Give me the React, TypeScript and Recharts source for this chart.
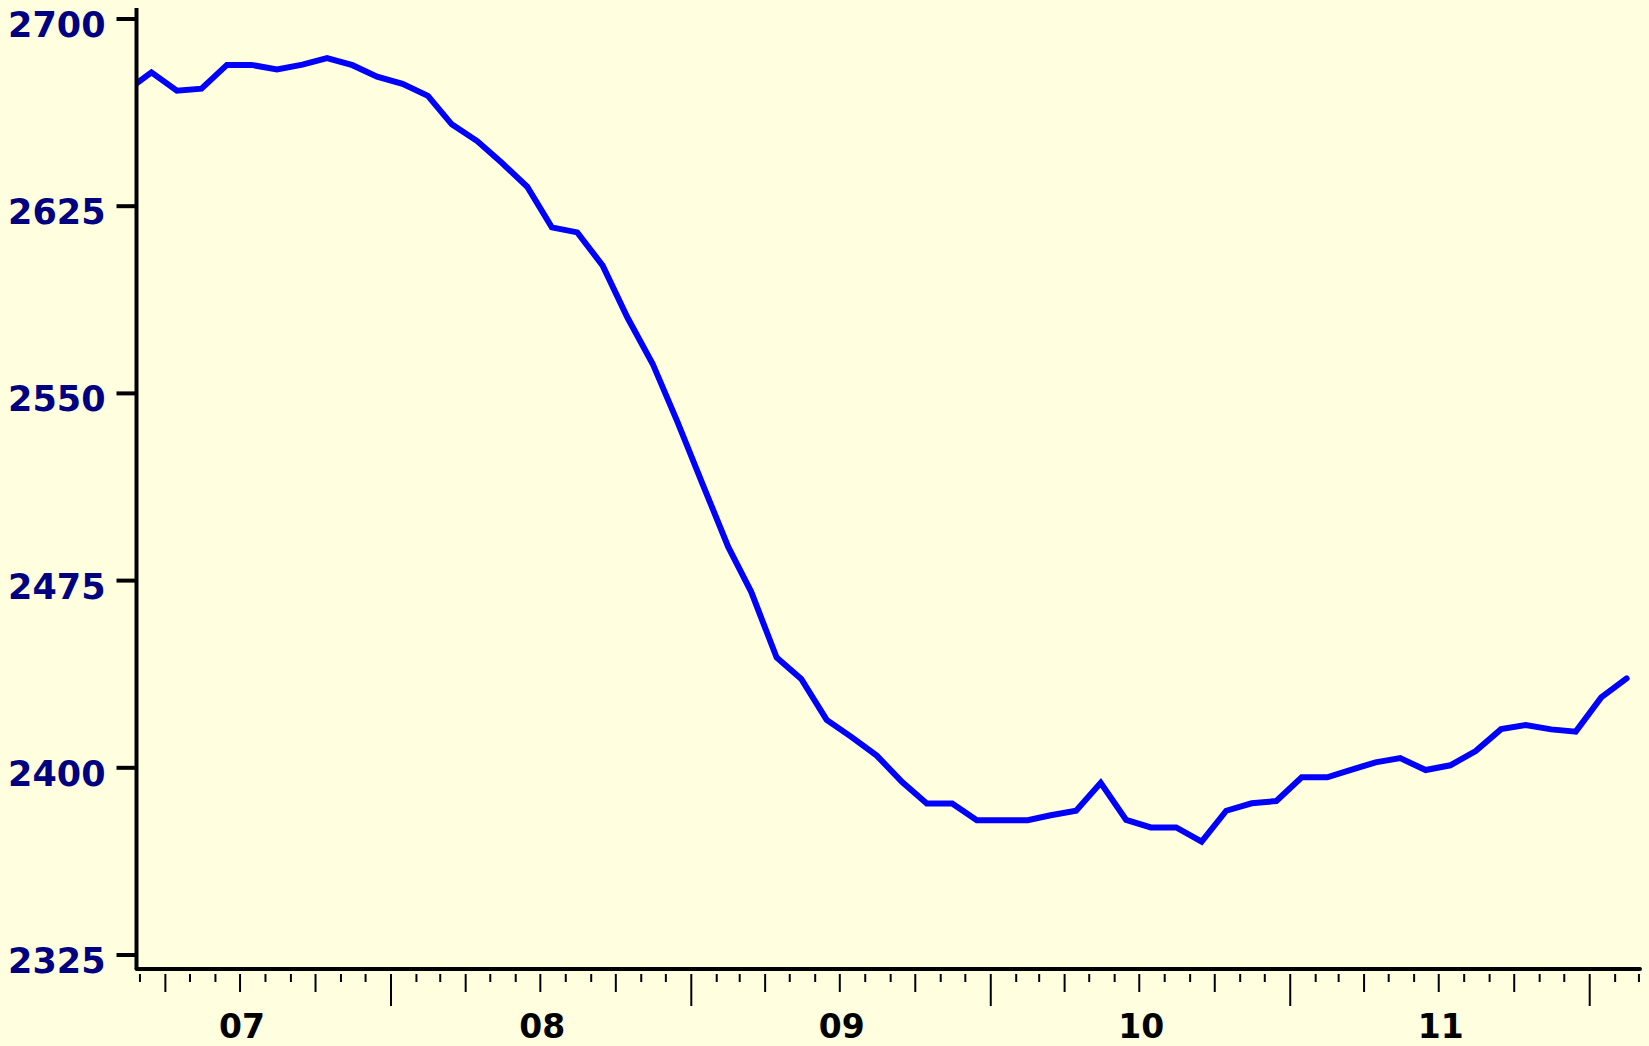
import React from 'react';
import { LineChart, Line, XAxis, YAxis } from 'recharts';

// monthly observations (plotted at the middle of each month)
const months = [
  '2007-02', '2007-03', '2007-04', '2007-05', '2007-06', '2007-07', '2007-08', '2007-09', '2007-10', '2007-11', '2007-12',
  '2008-01', '2008-02', '2008-03', '2008-04', '2008-05', '2008-06', '2008-07', '2008-08', '2008-09', '2008-10', '2008-11', '2008-12',
  '2009-01', '2009-02', '2009-03', '2009-04', '2009-05', '2009-06', '2009-07', '2009-08', '2009-09', '2009-10', '2009-11', '2009-12',
  '2010-01', '2010-02', '2010-03', '2010-04', '2010-05', '2010-06', '2010-07', '2010-08', '2010-09', '2010-10', '2010-11', '2010-12',
  '2011-01', '2011-02', '2011-03', '2011-04', '2011-05', '2011-06', '2011-07', '2011-08', '2011-09', '2011-10', '2011-11', '2011-12',
  '2012-01', '2012-02',
];

const values = [
  2671.8, 2678.6, 2671.3, 2672.1, 2681.6, 2681.6, 2679.8, 2681.7, 2684.3, 2681.5, 2676.9,
  2674.0, 2669.2, 2657.8, 2651.1, 2642.4, 2632.8, 2616.5, 2614.5, 2601.2, 2580.5, 2561.8, 2538.7,
  2513.5, 2488.5, 2470.5, 2444.2, 2435.6, 2419.2, 2412.4, 2404.9, 2394.3, 2385.7, 2385.7, 2379.0,
  2379.0, 2379.0, 2381.0, 2382.8, 2394.0, 2379.1, 2376.1, 2376.1, 2370.4, 2382.8, 2385.8, 2386.7,
  2396.2, 2396.2, 2399.1, 2402.2, 2403.9, 2399.1, 2401.0, 2406.7, 2415.5, 2417.1, 2415.4, 2414.5,
  2428.2, 2435.8,
];

const yTicks = [2325, 2400, 2475, 2550, 2625, 2700];
const yDomain = [2319.4, 2704.4];

const yearLabels = ['07', '08', '09', '10', '11'];
const firstYear = 2007;

// x axis range (days since 2007-01-01)
const xDomain = [54.8, 1887.3];
const tickStart = '2007-03';
const tickEnd = '2012-03';

const DAY = 86400000;
const ORIGIN = Date.UTC(2007, 0, 1);
const dayOf = (y: number, m: number, d: number) => (Date.UTC(y, m - 1, d) - ORIGIN) / DAY;

const data = months.map((s, i) => {
  const [y, m] = s.split('-').map(Number);
  return { t: dayOf(y, m, 15), v: values[i] };
});

const monthTicks: number[] = (() => {
  const out: number[] = [];
  let [y, m] = tickStart.split('-').map(Number);
  const [ey, em] = tickEnd.split('-').map(Number);
  while (y < ey || (y === ey && m <= em)) {
    out.push(dayOf(y, m, 1));
    m += 1;
    if (m > 12) { m = 1; y += 1; }
  }
  return out;
})();

const FONT = '"DejaVu Sans", sans-serif';

const XTick = (props: any) => {
  const { x, y, payload } = props;
  const d = new Date(ORIGIN + Math.round(payload.value) * DAY);
  const mon = d.getUTCMonth();
  const len = mon === 0 ? 32 : mon % 3 === 0 ? 18 : 8;
  const idx = d.getUTCFullYear() - firstYear;
  const label = mon === 6 ? yearLabels[idx] : null;
  return (
    <g>
      <line x1={x} x2={x} y1={y + 5} y2={y + 5 + len} stroke="#000" strokeWidth={2} />
      {label ? (
        <text x={x + 2} y={y + 69} textAnchor="middle" fill="#000" fontFamily={FONT} fontWeight="bold" fontSize={33}>
          {label}
        </text>
      ) : null}
    </g>
  );
};

const YTick = (props: any) => {
  const { x, y, payload } = props;
  return (
    <text x={x} y={y + 18} textAnchor="end" fill="#000080" fontFamily={FONT} fontWeight="bold" fontSize={35}>
      {payload.value}
    </text>
  );
};

export default function App() {
  return (
    <div style={{ position: 'absolute', left: 0, top: 0, width: 1649, height: 1046, background: '#FFFFE0', overflow: 'hidden' }}>
      <LineChart width={1649} height={1046} data={data} margin={{ top: 8, right: 9, left: 0, bottom: 0 }}>
        <XAxis
          dataKey="t"
          type="number"
          domain={xDomain}
          allowDataOverflow
          ticks={monthTicks}
          interval={0}
          height={77}
          tickSize={0}
          tickMargin={0}
          tickLine={false}
          axisLine={{ stroke: '#000', strokeWidth: 4, strokeLinecap: 'round' }}
          tick={<XTick />}
        />
        <YAxis
          type="number"
          domain={yDomain}
          allowDataOverflow
          ticks={yTicks}
          interval={0}
          width={136.5}
          tickSize={20}
          tickMargin={11}
          tickLine={{ stroke: '#000', strokeWidth: 4 }}
          axisLine={{ stroke: '#000', strokeWidth: 4 }}
          tick={<YTick />}
        />
        <Line
          type="linear"
          dataKey="v"
          stroke="#0000FF"
          strokeWidth={6}
          strokeLinecap="round"
          dot={false}
          activeDot={false}
          isAnimationActive={false}
        />
      </LineChart>
    </div>
  );
}
